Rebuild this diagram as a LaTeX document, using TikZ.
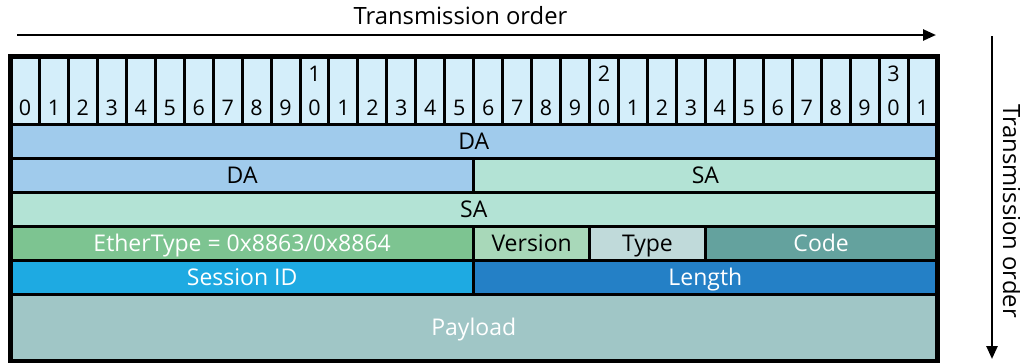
\documentclass[tikz,border=0pt]{standalone}
\usepackage{fontspec}
\setmainfont{Open Sans}
\usetikzlibrary{arrows.meta}
\definecolor{cbit}{RGB}{212,238,250}
\definecolor{cda}{RGB}{160,203,236}
\definecolor{csa}{RGB}{179,227,213}
\definecolor{ceth}{RGB}{125,196,145}
\definecolor{cver}{RGB}{168,216,185}
\definecolor{ctyp}{RGB}{192,218,218}
\definecolor{ccode}{RGB}{100,162,158}
\definecolor{csid}{RGB}{30,170,226}
\definecolor{clen}{RGB}{36,128,198}
\definecolor{cpay}{RGB}{160,198,198}
\tikzset{
  field/.style={draw=black, line width=3pt, inner sep=0pt, outer sep=0pt, anchor=north west, font=\fontsize{23}{27}\selectfont, text height=16.4pt, text depth=0pt},
  bitcell/.style={draw=black, line width=3pt, inner sep=0pt, outer sep=0pt, anchor=north west, fill=cbit},
  bitnum/.style={anchor=base, inner sep=0pt, font=\fontsize{21.5}{25}\selectfont},
  title/.style={anchor=base, inner sep=0pt, font=\fontsize{23.8}{27}\selectfont},
  frame/.style={draw=black, line width=5pt, inner sep=0pt, outer sep=0pt, anchor=north west},
  orderarrow/.style={line width=2.5pt, -{Triangle[length=13pt,width=11pt]}}
}
\begin{document}
\begin{tikzpicture}[x=1pt,y=-1pt]
\useasboundingbox (0,0) rectangle (1020,362);
\def\bw{28.953}
% bit cells
\foreach \b in {0,...,31}{
  \node[bitcell, minimum width=\bw pt, minimum height=67.5pt] (b\b) at ({10.5+\b*\bw},56.5) {};
  \pgfmathtruncatemacro{\lo}{mod(\b,10)}
  \pgfmathtruncatemacro{\hi}{\b/10}
  \node[bitnum] (n\b) at ({10.5+(\b+0.5)*\bw},115) {\lo};
  \ifnum\lo=0 \ifnum\hi>0
    \node[bitnum] (m\b) at ({10.5+(\b+0.5)*\bw},81) {\hi};
  \fi\fi
}
% fields
\node[field, fill=cda, minimum width=926.5pt, minimum height=34pt] (da1) at (10.5,124) {DA};
\node[field, fill=cda, minimum width=463.25pt, minimum height=34pt] (da2) at (10.5,158) {DA};
\node[field, fill=csa, minimum width=463.25pt, minimum height=34pt] (sa1) at (473.75,158) {SA};
\node[field, fill=csa, minimum width=926.5pt, minimum height=34pt] (sa2) at (10.5,192) {SA};
\node[field, fill=ceth, text=white, minimum width=463.25pt, minimum height=34pt] (eth) at (10.5,226) {EtherType = 0x8863/0x8864};
\node[field, fill=cver, minimum width=115.81pt, minimum height=34pt] (ver) at (473.75,226) {Version};
\node[field, fill=ctyp, minimum width=115.81pt, minimum height=34pt] (typ) at (589.56,226) {Type};
\node[field, fill=ccode, text=white, minimum width=231.63pt, minimum height=34pt] (code) at (705.37,226) {Code};
\node[field, fill=csid, text=white, minimum width=463.25pt, minimum height=34pt] (sid) at (10.5,260) {Session ID};
\node[field, fill=clen, text=white, minimum width=463.25pt, minimum height=34pt] (len) at (473.75,260) {Length};
\node[field, fill=cpay, text=white, minimum width=926.5pt, minimum height=67.5pt] (pay) at (10.5,294) {Payload};
% outer frame
\node[frame, minimum width=926.5pt, minimum height=305pt] (frm) at (10.5,56.5) {};
% transmission order arrows
\coordinate (ha) at (17,35);
\coordinate (hb) at (936,35);
\draw[orderarrow] (ha) -- (hb);
\node[title] (ht) at (460.5,24) {Transmission order};
\coordinate (va) at (992,36);
\coordinate (vb) at (992,359);
\draw[orderarrow] (va) -- (vb);
\node[title, rotate=-90] (vt) at (1003,211) {Transmission order};
\end{tikzpicture}
\end{document}
